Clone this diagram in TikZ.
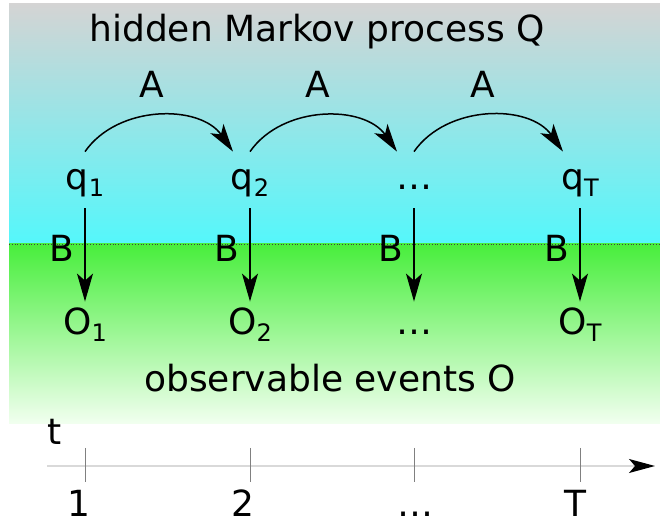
\documentclass[tikz,border=0pt]{standalone}
\usepackage{fontspec}
\setmainfont{DejaVu Sans}
\usetikzlibrary{arrows.meta}
\definecolor{skygrey}{RGB}{212,212,212}
\definecolor{hidcyan}{RGB}{84,247,251}
\definecolor{obsgreen}{RGB}{72,238,60}
\definecolor{fadegreen}{RGB}{242,255,240}
\newcommand\idx[1]{\raisebox{-3.5pt}{\fontsize{12pt}{12pt}\selectfont #1}}

\begin{document}
\begin{tikzpicture}[x=0.5pt,y=0.5pt,
  every node/.style={font=\fontsize{18pt}{20pt}\selectfont, inner sep=0pt, anchor=base},
  state/.style={text height=10pt, text depth=4pt},
  obs/.style={text height=13pt, text depth=4pt},
  trans/.style={-{Stealth[length=14pt,width=8pt,inset=3.5pt]}, line width=0.75pt},
  emit/.style={trans, shorten <=5pt, shorten >=3.5pt},
  tick/.style={gray, line width=0.5pt}]
  \useasboundingbox (0,0) rectangle (660,525);
  % pozadi: skryta a pozorovana cast
  \shade[top color=skygrey, bottom color=hidcyan] (9,281) rectangle (660,521);
  \shade[top color=obsgreen, bottom color=fadegreen] (9,101) rectangle (660,281);
  \draw[densely dotted, gray!50!black] (9,281) -- (660,281);
  \node (title) at (317,483) {hidden Markov process Q};
  % skryte stavy
  \node[state] (q1) at (85,335) {q\idx{1}};
  \node[state] (q2) at (250,335) {q\idx{2}};
  \node[state] (q3) at (414,335) {\dots};
  \node[state] (qT) at (580,335) {q\idx{T}};
  \node (a12) at (152,427) {A};
  \node (a23) at (318,427) {A};
  \node (a3T) at (483,427) {A};
  \draw[trans] ([yshift=9pt]q1.north) to[bend left=55] ([xshift=-8.5pt,yshift=9pt]q2.north);
  \draw[trans] ([yshift=9pt]q2.north) to[bend left=55] ([xshift=-8.5pt,yshift=9pt]q3.north);
  \draw[trans] ([yshift=9pt]q3.north) to[bend left=55] ([xshift=-8.5pt,yshift=9pt]qT.north);
  % pozorovani
  \node[obs] (o1) at (85,190) {O\idx{1}};
  \node[obs] (o2) at (250,190) {O\idx{2}};
  \node[obs] (o3) at (414,190) {\dots};
  \node[obs] (oT) at (580,190) {O\idx{T}};
  \node (b1) at (62,263) {B};
  \node (b2) at (227,263) {B};
  \node (b3) at (391,263) {B};
  \node (bT) at (557,263) {B};
  \draw[emit] (q1.south) -- (o1.north);
  \draw[emit] (q2.south) -- (o2.north);
  \draw[emit] (q3.south) -- (o3.north);
  \draw[emit] (qT.south) -- (oT.north);
  \node (events) at (330,133) {observable events O};
  % casova osa
  \coordinate (t0) at (47,59);
  \coordinate (t1) at (655,59);
  \draw[gray!30, line width=0.6pt, -{Stealth[length=13pt,width=7pt,inset=3pt,color=black]}] (t0) -- (t1);
  \node (tlabel) at (55,80) {t};
  \draw[tick] (85,77) -- (85,43);
  \draw[tick] (250,77) -- (250,43);
  \draw[tick] (414,77) -- (414,43);
  \draw[tick] (580,77) -- (580,43);
  \node (n1) at (79,8) {1};
  \node (n2) at (243,8) {2};
  \node (n3) at (415,8) {\dots};
  \node (nT) at (575,8) {T};
\end{tikzpicture}
\end{document}
